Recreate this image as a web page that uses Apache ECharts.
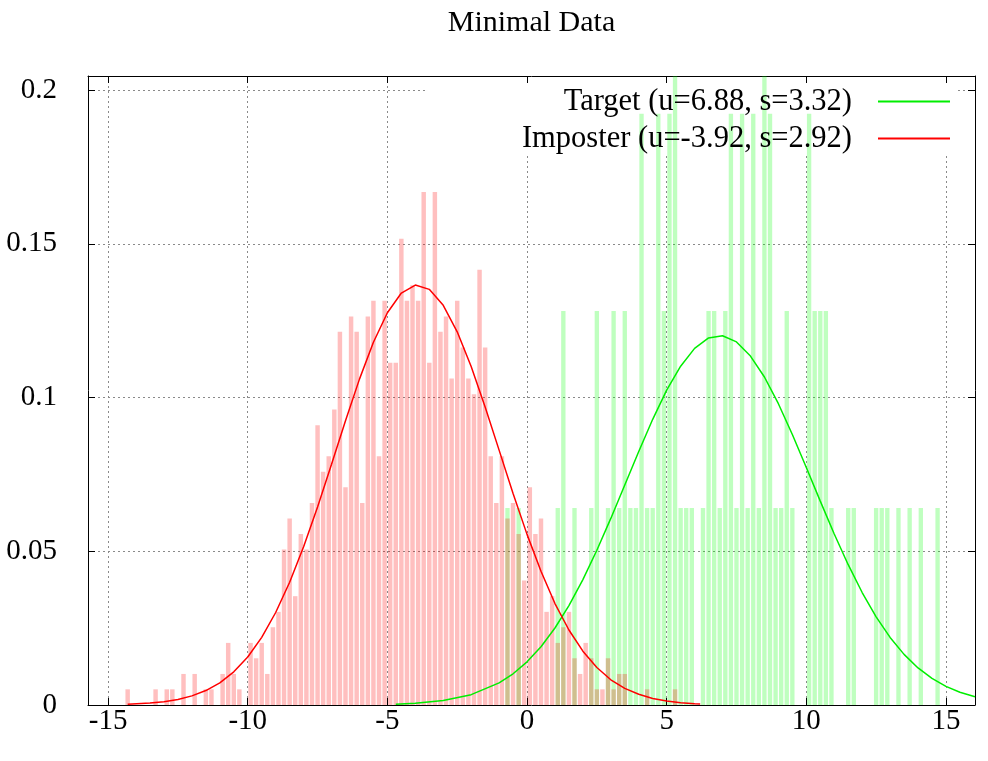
<!DOCTYPE html>
<html><head><meta charset="utf-8">
<script src="https://cdn.jsdelivr.net/npm/echarts@6/dist/echarts.min.js"></script>
<style>html,body{margin:0;padding:0;background:#fff}#c{width:988px;height:761px}</style>
</head><body><div id="c"></div>
<script>
// ---- data ----
const xTicks = [-15, -10, -5, 0, 5, 10, 15];
const yTicks = [0, 0.05, 0.1, 0.15, 0.2];
const targetName = 'Target (u=6.88, s=3.32)';
const imposterName = 'Imposter (u=-3.92, s=2.92)';

// imposter histogram: bin centres and densities
const imposterBins = [-14.3,-13.3,-12.9,-12.7,-12.3,-11.9,-11.5,-11.3,-10.9,-10.7,-10.5,-10.3,-9.9,-9.7,-9.5,-9.3,-9.1,-8.9,-8.7,-8.5,-8.3,-8.1,-7.9,-7.7,-7.5,-7.3,-7.1,-6.9,-6.7,-6.5,-6.3,-6.1,-5.9,-5.7,-5.5,-5.3,-5.1,-4.9,-4.7,-4.5,-4.3,-4.1,-3.9,-3.7,-3.5,-3.3,-3.1,-2.9,-2.7,-2.5,-2.3,-2.1,-1.9,-1.7,-1.5,-1.3,-1.1,-0.9,-0.7,-0.5,-0.3,-0.1,0.1,0.3,0.5,0.7,0.9,1.1,1.3,1.5,1.7,1.9,2.1,2.3,2.5,2.7,2.9,3.1,3.3,3.5,4.3,5.3];
const imposterDensity = [0.0051,0.0051,0.0051,0.0051,0.0101,0.0101,0.0051,0.0051,0.0101,0.0202,0.0101,0.0051,0.0202,0.0152,0.0202,0.0101,0.0253,0.0303,0.0506,0.0607,0.0354,0.0556,0.0506,0.0657,0.0910,0.0759,0.0809,0.0961,0.1214,0.0708,0.1264,0.1214,0.0657,0.1264,0.1315,0.0809,0.1315,0.1113,0.1113,0.1517,0.1315,0.1365,0.1315,0.1669,0.1113,0.1669,0.1214,0.1264,0.1062,0.1315,0.1163,0.1062,0.1011,0.1416,0.1163,0.0809,0.0657,0.0809,0.0607,0.0657,0.0556,0.0405,0.0708,0.0556,0.0607,0.0303,0.0354,0.0202,0.0253,0.0303,0.0152,0.0101,0.0202,0.0152,0.0051,0.0051,0.0152,0.0051,0.0101,0.0101,0.0051,0.0051];

// target histogram: bin centres and densities
const targetBins = [-0.7,-0.3,1.1,1.3,1.7,2.3,2.5,2.9,3.1,3.3,3.5,3.7,3.9,4.1,4.3,4.5,4.7,4.9,5.1,5.3,5.5,5.7,5.9,6.3,6.5,6.7,6.9,7.1,7.3,7.5,7.7,7.9,8.1,8.3,8.5,8.7,8.9,9.1,9.3,9.5,10.1,10.3,10.5,10.7,10.9,11.5,11.7,12.5,12.7,12.9,13.3,13.7,14.1,14.7];
const targetDensity = [0.0641,0.0641,0.0641,0.1282,0.0641,0.0641,0.1282,0.0641,0.1282,0.0641,0.1282,0.0641,0.0641,0.1923,0.0641,0.0641,0.1923,0.1282,0.1923,0.2564,0.0641,0.0641,0.0641,0.0641,0.1282,0.1282,0.0641,0.1282,0.1923,0.0641,0.1923,0.0641,0.1923,0.0641,0.2564,0.1923,0.0641,0.0641,0.1282,0.0641,0.1923,0.1282,0.1282,0.1282,0.0641,0.0641,0.0641,0.0641,0.0641,0.0641,0.0641,0.0641,0.0641,0.0641];

// fitted curves
const imposterFitX = [-14.3,-13.5,-13,-12.5,-12,-11.5,-11,-10.5,-10,-9.5,-9,-8.5,-8,-7.5,-7,-6.5,-6,-5.5,-5,-4.5,-4,-3.5,-3,-2.5,-2,-1.5,-1,-0.5,0,0.5,1,1.5,2,2.5,3,3.5,4,4.5,5,5.5,6,6.2];
const imposterFitY = [0.00025,0.00063,0.00109,0.00182,0.00297,0.0047,0.00722,0.01078,0.01563,0.02201,0.03009,0.03993,0.05146,0.06443,0.07832,0.09246,0.1060,0.1180,0.1276,0.1340,0.1366,0.1352,0.1300,0.1214,0.1101,0.0969,0.0829,0.0688,0.0555,0.0435,0.0330,0.0244,0.0175,0.0122,0.0082,0.0054,0.0035,0.0021,0.0013,0.00075,0.00043,0.00034];
const targetFitX = [-4.7,-4,-3,-2,-1,-0.5,0,0.5,1,1.5,2,2.5,3,3.5,4,4.5,5,5.5,6,6.5,7,7.5,8,8.5,9,9.5,10,10.5,11,11.5,12,12.5,13,13.5,14,14.5,15,15.5,16.04];
const targetFitY = [0.00027,0.00056,0.00144,0.00336,0.00718,0.01016,0.01404,0.01896,0.02504,0.03233,0.0408,0.05032,0.06069,0.07157,0.08248,0.09293,0.1024,0.1102,0.116,0.1194,0.1201,0.1181,0.1135,0.1067,0.098,0.088,0.07726,0.06632,0.05563,0.04564,0.03659,0.02868,0.02198,0.01646,0.01205,0.00863,0.00604,0.00413,0.00267];

// ---- chart ----
const X_MIN = -15.72, X_MAX = 16.04, Y_MIN = 0, Y_MAX = 0.2046, BIN = 0.2;
const FONT = 'Liberation Serif';
const zip = (a, b) => a.map((v, i) => [v, b[i]]);

function barRender(frac, color) {
  return function (params, api) {
    const x = api.value(0), y = api.value(1);
    const top = api.coord([x, y]);
    const base = api.coord([x, 0]);
    const w = api.size([BIN, 0])[0] * frac;
    return {
      type: 'rect',
      shape: { x: top[0] - w / 2, y: top[1], width: w, height: base[1] - top[1] },
      style: { fill: color }
    };
  };
}

const axisLineStyle = { color: '#000', width: 1 };
const gridLine = { show: true, lineStyle: { color: '#8a8a8a', width: 1, type: [2, 3] } };

const chart = echarts.init(document.getElementById('c'), null, { renderer: 'canvas' });
chart.setOption({
  animation: false,
  backgroundColor: '#fff',
  title: {
    text: 'Minimal Data', left: 531.5, top: 8, textAlign: 'center', padding: 0,
    textStyle: { fontFamily: FONT, fontSize: 30, fontWeight: 'normal', color: '#000' }
  },
  grid: { left: 88, right: 13, top: 76, bottom: 56, containLabel: false },
  legend: {
    data: [targetName, imposterName], orient: 'vertical', align: 'right',
    right: 38, top: 86, padding: 0, itemGap: 6, itemWidth: 72, itemHeight: 2,
    icon: 'rect', selectedMode: false,
    textStyle: { fontFamily: FONT, fontSize: 30.5, color: '#000', lineHeight: 30, padding: [0, 21, 0, 0] }
  },
  graphic: [{
    type: 'rect', z: 1, silent: true,
    shape: { x: 425, y: 84, width: 533, height: 69 },
    style: { fill: '#fff' }
  }],
  xAxis: [{
    type: 'value', min: X_MIN, max: X_MAX, position: 'bottom', splitNumber: 6,
    axisLine: { show: true, onZero: false, lineStyle: axisLineStyle },
    axisTick: { show: true, inside: true, length: 7, customValues: xTicks, lineStyle: axisLineStyle },
    axisLabel: { customValues: xTicks, color: '#000', fontFamily: FONT, fontSize: 29, margin: 2 },
    splitLine: gridLine
  }, {
    type: 'value', min: X_MIN, max: X_MAX, position: 'top', splitNumber: 6,
    axisLine: { show: true, onZero: false, lineStyle: axisLineStyle },
    axisTick: { show: true, inside: true, length: 7, customValues: xTicks, lineStyle: axisLineStyle },
    axisLabel: { show: false }, splitLine: { show: false }
  }],
  yAxis: [{
    type: 'value', min: Y_MIN, max: Y_MAX, interval: 0.05, position: 'left',
    axisLine: { show: true, onZero: false, lineStyle: axisLineStyle },
    axisTick: { show: true, inside: true, length: 7, customValues: yTicks, lineStyle: axisLineStyle },
    axisLabel: { customValues: yTicks, color: '#000', fontFamily: FONT, fontSize: 29, margin: 31 },
    splitLine: gridLine
  }, {
    type: 'value', min: Y_MIN, max: Y_MAX, interval: 0.05, position: 'right',
    axisLine: { show: true, onZero: false, lineStyle: axisLineStyle },
    axisTick: { show: true, inside: true, length: 7, customValues: yTicks, lineStyle: axisLineStyle },
    axisLabel: { show: false }, splitLine: { show: false }
  }],
  series: [{
    name: 'target-hist', type: 'custom', clip: true, z: 2,
    renderItem: barRender(0.78, 'rgba(0,255,0,0.25)'),
    encode: { x: 0, y: 1 }, data: zip(targetBins, targetDensity)
  }, {
    name: 'imposter-hist', type: 'custom', clip: true, z: 2,
    renderItem: barRender(0.8, 'rgba(255,0,0,0.25)'),
    encode: { x: 0, y: 1 }, data: zip(imposterBins, imposterDensity)
  }, {
    name: targetName, type: 'line', z: 3, showSymbol: false, symbol: 'none',
    color: '#00ee00', lineStyle: { color: '#00ee00', width: 1.5 },
    data: zip(targetFitX, targetFitY)
  }, {
    name: imposterName, type: 'line', z: 3, showSymbol: false, symbol: 'none',
    color: '#ff0000', lineStyle: { color: '#ff0000', width: 1.5 },
    data: zip(imposterFitX, imposterFitY)
  }]
});
</script>
</body></html>
